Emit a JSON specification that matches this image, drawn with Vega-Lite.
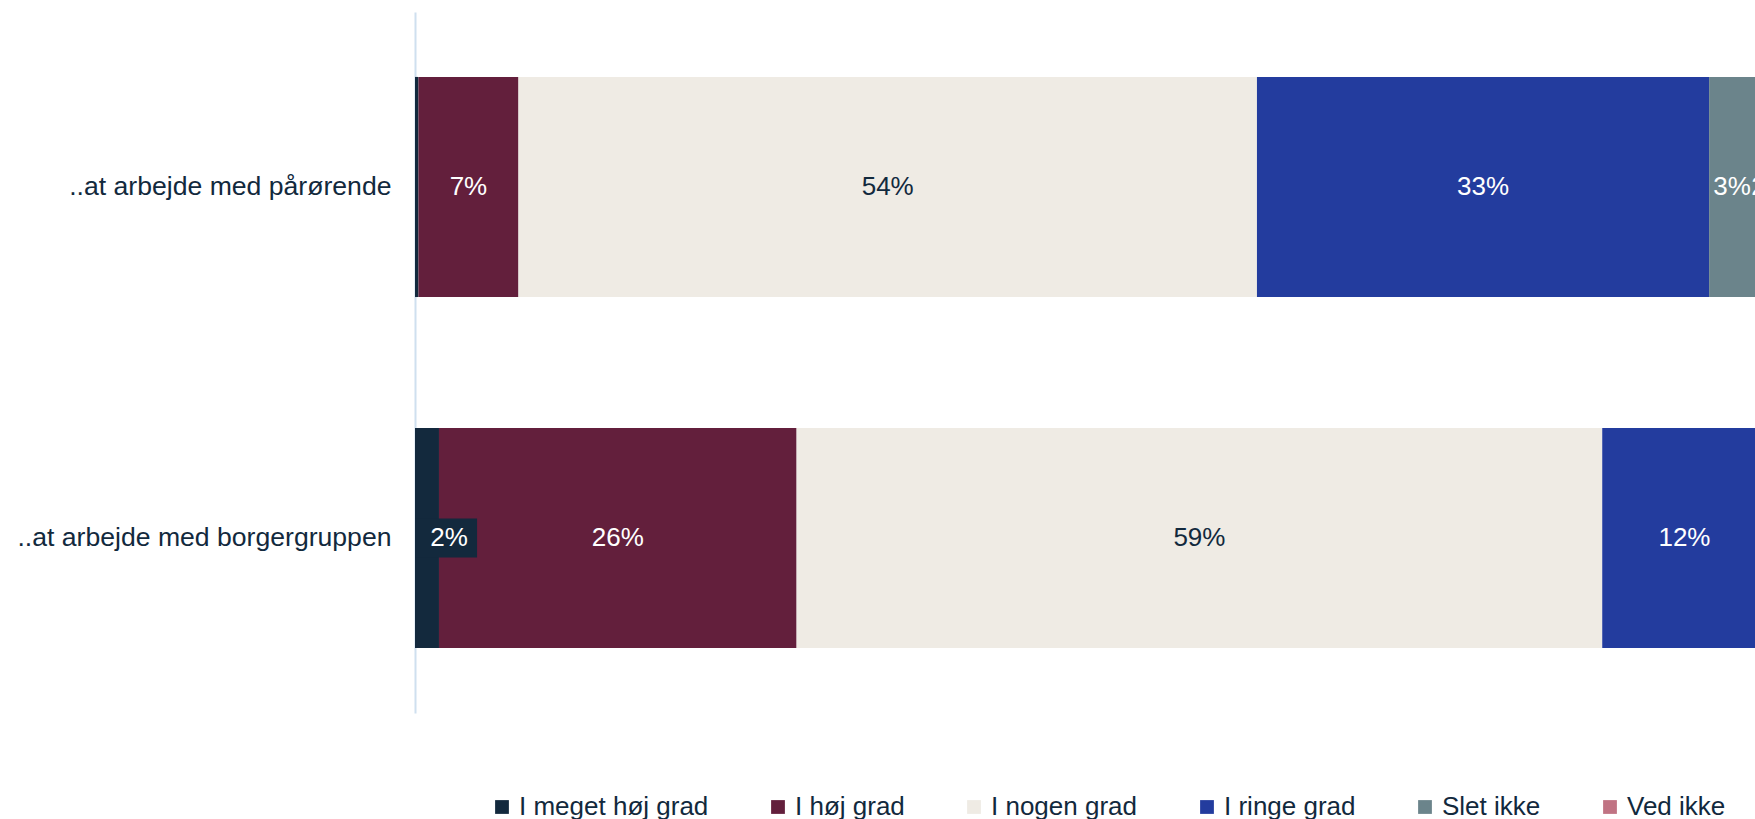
{
  "$schema": "https://vega.github.io/schema/vega-lite/v6.json",
  "autosize": {"type": "none"},
  "padding": {"left": 415, "top": 12, "right": 0, "bottom": 106},
  "width": 1340,
  "height": 701,
  "background": "#ffffff",
  "config": {
    "view": {"stroke": null},
    "font": "Liberation Sans"
  },
  "data": {
    "values": [
      {"task": "..at arbejde med pårørende", "category": "I meget høj grad", "idx": 1, "value": 0.0025},
      {"task": "..at arbejde med pårørende", "category": "I høj grad", "idx": 2, "value": 0.073},
      {"task": "..at arbejde med pårørende", "category": "I nogen grad", "idx": 3, "value": 0.539},
      {"task": "..at arbejde med pårørende", "category": "I ringe grad", "idx": 4, "value": 0.330},
      {"task": "..at arbejde med pårørende", "category": "Slet ikke", "idx": 5, "value": 0.0335},
      {"task": "..at arbejde med pårørende", "category": "Ved ikke", "idx": 6, "value": 0.022},
      {"task": "..at arbejde med borgergruppen", "category": "I meget høj grad", "idx": 1, "value": 0.0175},
      {"task": "..at arbejde med borgergruppen", "category": "I høj grad", "idx": 2, "value": 0.261},
      {"task": "..at arbejde med borgergruppen", "category": "I nogen grad", "idx": 3, "value": 0.588},
      {"task": "..at arbejde med borgergruppen", "category": "I ringe grad", "idx": 4, "value": 0.12},
      {"task": "..at arbejde med borgergruppen", "category": "Slet ikke", "idx": 5, "value": 0.009},
      {"task": "..at arbejde med borgergruppen", "category": "Ved ikke", "idx": 6, "value": 0.0045}
    ]
  },
  "encoding": {
    "y": {
      "field": "task",
      "type": "nominal",
      "sort": ["..at arbejde med pårørende", "..at arbejde med borgergruppen"],
      "scale": {"paddingInner": 0.373, "paddingOuter": 0.185},
      "axis": {
        "title": null,
        "ticks": false,
        "tickSize": 0,
        "labelPadding": 24,
        "labelFontSize": 26.6,
        "labelFont": "Liberation Sans",
        "labelColor": "#12293d",
        "labelLimit": 0,
        "domainColor": "#cfe0ef",
        "domainWidth": 2,
        "grid": false
      }
    }
  },
  "layer": [
    {
      "mark": {"type": "bar", "clip": true},
      "encoding": {
        "x": {
          "field": "value",
          "type": "quantitative",
          "stack": "zero",
          "scale": {"domain": [0, 0.978], "nice": false, "zero": true},
          "axis": null
        },
        "order": {"field": "idx", "type": "quantitative"},
        "color": {
          "field": "category",
          "type": "nominal",
          "scale": {
            "domain": ["I meget høj grad", "I høj grad", "I nogen grad", "I ringe grad", "Slet ikke", "Ved ikke"],
            "range": ["#13293d", "#631f3c", "#efebe4", "#233c9e", "#6b848b", "#c07383"]
          },
          "legend": {
            "title": null,
            "orient": "none",
            "direction": "horizontal",
            "legendX": 74,
            "legendY": 782,
            "symbolType": "square",
            "symbolSize": 190,
            "symbolStrokeWidth": 0,
            "labelFontSize": 26,
            "labelFont": "Liberation Sans",
            "labelColor": "#12293d",
            "labelOffset": 4,
            "columnPadding": 56,
            "padding": 0,
            "labelLimit": 0
          }
        }
      }
    },
    {
      "transform": [
        {"filter": "datum.task == '..at arbejde med borgergruppen' && datum.category == 'I meget høj grad'"}
      ],
      "mark": {"type": "bar", "color": "#13293d", "size": 39},
      "encoding": {
        "x": {"datum": 0, "type": "quantitative"},
        "x2": {"datum": 0.0453}
      }
    },
    {
      "mark": {"type": "text", "font": "Liberation Sans", "fontSize": 26, "baseline": "middle", "align": "center"},
      "encoding": {
        "x": {"field": "value", "type": "quantitative", "stack": "zero", "bandPosition": 0.5},
        "detail": {"field": "category"},
        "order": {"field": "idx", "type": "quantitative"},
        "text": {
          "condition": {"test": "datum.value < 0.015 || (datum.task == '..at arbejde med borgergruppen' && datum.category == 'I meget høj grad')", "value": ""},
          "field": "value",
          "format": ".0%"
        },
        "color": {
          "condition": {"test": "datum.category == 'I nogen grad'", "value": "#12293d"},
          "value": "#ffffff"
        }
      }
    },
    {
      "transform": [
        {"filter": "datum.task == '..at arbejde med borgergruppen' && datum.category == 'I meget høj grad'"}
      ],
      "mark": {"type": "text", "font": "Liberation Sans", "fontSize": 26, "baseline": "middle", "align": "center", "dx": 22, "color": "#ffffff"},
      "encoding": {
        "x": {"field": "value", "type": "quantitative", "stack": "zero", "bandPosition": 0.5},
        "text": {"field": "value", "format": ".0%"}
      }
    }
  ]
}
